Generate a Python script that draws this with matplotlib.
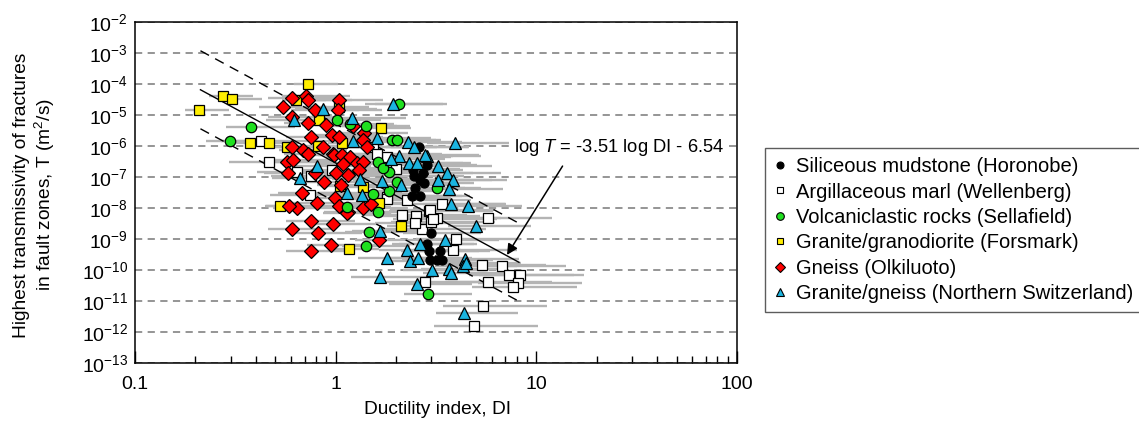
import numpy as np
import matplotlib.pyplot as plt
from matplotlib.lines import Line2D
from matplotlib.ticker import NullLocator, FixedLocator, FixedFormatter

plt.rcParams['font.family'] = ['Liberation Sans', 'DejaVu Sans']
plt.rcParams['mathtext.fontset'] = 'custom'
plt.rcParams['mathtext.rm'] = 'Liberation Sans'
plt.rcParams['mathtext.it'] = 'Liberation Sans:italic'

# log10(DI) and log10(T), one pair of lists per site
horonobe_logdi = [0.417, 0.456, 0.387, 0.433, 0.390, 0.420, 0.440, 0.395, 0.420, 0.379,
                  0.475, 0.457, 0.466, 0.520, 0.470, 0.503, 0.532]
horonobe_logt = [-6.03, -6.60, -6.76, -6.85, -6.97, -7.09, -7.19, -7.35, -7.60, -7.60,
                 -8.80, -9.17, -9.38, -9.38, -9.68, -9.68, -9.68]

wellenberg_logdi = [-0.372, -0.331, -0.123, -0.191, -0.020, 0.187, 0.254, 0.208, 0.302, 0.254,
                    -0.128, 0.257, 0.333, 0.400, 0.466, 0.503, 0.431, 0.476, 0.528, 0.599,
                    0.586, 0.445, 0.689, 0.727, 0.760, 0.735, 0.757, 0.354, 0.395, 0.470,
                    0.486, 0.827, 0.866, 0.917, 0.910, 0.882]
wellenberg_logt = [-5.83, -6.52, -6.96, -6.82, -6.78, -6.04, -6.34, -6.25, -6.72, -7.63,
                   -7.57, -7.71, -8.22, -8.26, -8.09, -8.32, -8.68, -8.43, -7.86, -9.01,
                   -9.34, -10.37, -11.80, -9.83, -10.37, -11.17, -8.31, -7.73, -8.48, -8.05,
                   -8.35, -9.88, -10.17, -10.15, -10.41, -10.53]

sellafield_logdi = [-0.527, -0.424, 0.008, 0.071, 0.151, 0.317, 0.279, 0.304, 0.212, 0.267,
                    0.234, 0.304, 0.184, 0.267, 0.503, 0.055, 0.209, 0.167, 0.151, 0.461]
sellafield_logt = [-5.82, -5.37, -5.15, -5.28, -5.35, -4.65, -5.79, -5.79, -6.50, -6.82,
                   -6.71, -7.14, -7.54, -7.43, -7.35, -7.95, -8.13, -8.77, -9.22, -10.77]

forsmark_logdi = [-0.681, -0.562, -0.517, -0.138, -0.427, -0.332, -0.243, -0.088, -0.083, -0.198,
                  0.016, 0.031, 0.226, 0.136, -0.278, 0.216, 0.325, 0.066, 0.021]
forsmark_logt = [-4.83, -4.38, -4.47, -3.99, -5.89, -5.89, -6.02, -5.99, -5.15, -4.51,
                 -4.73, -5.89, -5.41, -7.31, -7.93, -7.83, -8.57, -9.31, -7.28]

olkiluoto_logdi = [-0.219, -0.148, -0.264, -0.137, -0.103, -0.216, -0.137, -0.050, -0.125, -0.219,
                   -0.161, -0.137, -0.062, -0.015, -0.244, -0.214, -0.239, -0.103, -0.057, -0.169,
                   0.018, 0.013, -0.020, 0.018, -0.008, 0.030, 0.071, 0.035, 0.105, 0.135,
                   0.143, 0.135, 0.088, 0.154, 0.063, 0.118, 0.026, 0.001, -0.194, -0.233,
                   -0.095, -0.003, 0.018, 0.063, 0.135, 0.174, -0.125, -0.015, -0.219, -0.090,
                   -0.023, -0.125, 0.217, 0.058]
olkiluoto_logt = [-4.45, -4.38, -4.72, -4.51, -4.83, -5.05, -5.24, -5.31, -5.69, -6.01,
                  -6.12, -6.25, -6.01, -6.25, -6.50, -6.44, -6.85, -6.87, -7.17, -7.50,
                  -4.51, -4.83, -5.64, -5.69, -6.28, -6.28, -6.34, -6.57, -6.55, -6.50,
                  -5.58, -5.80, -5.35, -6.01, -6.93, -6.76, -7.25, -6.87, -8.00, -7.93,
                  -7.82, -7.68, -7.93, -8.11, -8.00, -7.87, -8.40, -8.52, -8.68, -8.79,
                  -9.18, -9.38, -9.02, -8.16]

swiss_logdi = [0.284, -0.062, -0.206, 0.080, 0.204, 0.088, 0.362, 0.389, 0.594, -0.095,
               -0.178, 0.317, 0.453, 0.367, 0.404, 0.510, 0.553, 0.586, 0.566, 0.511,
               0.274, 0.229, 0.325, 0.121, 0.059, 0.131, 0.573, 0.661, 0.702, 0.221,
               0.546, 0.420, 0.354, 0.370, 0.409, 0.254, 0.644, 0.633, 0.652, 0.478,
               0.566, 0.574, 0.219, 0.408, 0.638, 0.445]
swiss_logt = [-4.64, -4.81, -5.15, -5.09, -5.72, -5.83, -5.85, -6.01, -5.90, -6.63,
              -7.03, -6.32, -6.32, -6.55, -6.55, -6.64, -6.85, -7.09, -7.39, -7.09,
              -6.42, -7.11, -7.26, -7.06, -7.51, -7.59, -7.86, -7.94, -8.59, -8.73,
              -9.02, -9.15, -9.35, -9.72, -9.62, -9.62, -9.65, -9.86, -9.76, -10.01,
              -9.97, -10.08, -10.22, -10.46, -11.40, -6.28]

# approximate DI range of each point (decades below / above)
err_lo = [0.14, 0.20, 0.12, 0.07, 0.12, 0.14]
err_hi = [0.25, 0.32, 0.22, 0.15, 0.22, 0.27]

labels = ['Siliceous mudstone (Horonobe)', 'Argillaceous marl (Wellenberg)',
          'Volcaniclastic rocks (Sellafield)', 'Granite/granodiorite (Forsmark)',
          'Gneiss (Olkiluoto)', 'Granite/gneiss (Northern Switzerland)']

# regression log T = a log DI + b, with band
fit_a = -3.51
fit_b = -6.54
fit_band = 1.26
fit_di = [0.212, 8.2]

series = [(horonobe_logdi, horonobe_logt), (wellenberg_logdi, wellenberg_logt),
          (sellafield_logdi, sellafield_logt), (forsmark_logdi, forsmark_logt),
          (olkiluoto_logdi, olkiluoto_logt), (swiss_logdi, swiss_logt)]
styles = [dict(marker='o', ms=6.5, mfc='black'),
          dict(marker='s', ms=6.8, mfc='white'),
          dict(marker='o', ms=7.5, mfc='#1fe01f'),
          dict(marker='s', ms=6.8, mfc='#ffee00'),
          dict(marker='D', ms=6.8, mfc='#ff0000'),
          dict(marker='^', ms=8, mfc='#1ab4e0')]
legend_ms = [5, 5, 5.5, 5, 5, 5.5]

fig = plt.figure(figsize=(11.39, 4.29), dpi=100)
ax = fig.add_axes([0.1185, 0.1538, 0.5285, 0.794])

for (ld, lt), lo, hi in zip(series, err_lo, err_hi):
    di = 10 ** np.array(ld)
    t = 10 ** np.array(lt)
    xerr = [di - di * 10 ** (-lo), di * 10 ** hi - di]
    ax.errorbar(di, t, xerr=xerr, fmt='none', ecolor='#b4b4b4', elinewidth=1.7,
                capsize=0, zorder=2)

x = np.array(fit_di)
y = 10 ** (fit_a * np.log10(x) + fit_b)
ax.plot(x, y, color='black', lw=1, zorder=3)
ax.plot(x, y * 10 ** fit_band, color='black', lw=1, dashes=(7, 5), zorder=3)
ax.plot(x, y / 10 ** fit_band, color='black', lw=1, dashes=(7, 5), zorder=3)

order = [1, 0, 3, 4, 2, 5]
for i in order:
    ld, lt = series[i]
    ax.plot(10 ** np.array(ld), 10 ** np.array(lt), ls='none', mec='black', mew=0.9,
            zorder=4, **styles[i])

ax.set_xscale('log')
ax.set_yscale('log')
ax.set_xlim(0.1, 100)
ax.set_ylim(1e-13, 1e-2)

yexp = np.arange(-13, -1)
ax.yaxis.set_major_locator(FixedLocator(10.0 ** yexp))
ax.yaxis.set_major_formatter(FixedFormatter(['10$^{%d}$' % e for e in yexp]))
ax.yaxis.set_minor_locator(NullLocator())
ax.xaxis.set_major_locator(FixedLocator([0.1, 1, 10, 100]))
ax.xaxis.set_major_formatter(FixedFormatter(['0.1', '1', '10', '100']))
ax.tick_params(axis='y', length=0, pad=5, labelsize=14)
ax.tick_params(axis='x', which='major', direction='in', length=9, width=1, labelsize=14, pad=9)
ax.tick_params(axis='x', which='minor', direction='in', length=5, width=1)
ax.grid(axis='y', which='major', ls=(0, (4, 3)), color='#8c8c8c', lw=1.3)
ax.set_axisbelow(True)
for s in ax.spines.values():
    s.set_linewidth(1.1)

ax.annotate('', xy=(10 ** 0.854, 10 ** -9.51), xytext=(10 ** 1.131, 10 ** -6.64),
            arrowprops=dict(arrowstyle='-|>', color='black', lw=1.1, mutation_scale=16,
                            shrinkA=0, shrinkB=0), zorder=6)
ax.text(10 ** 0.888, 10 ** -6.05, 'log $T$ = -3.51 log DI - 6.54', fontsize=13.2,
        ha='left', va='center', zorder=6,
        bbox=dict(facecolor='white', edgecolor='none', pad=1.5))

fig.text(35 / 1139, 1 - 195 / 429, 'Highest transmissivity of fractures\nin fault zones, T (m$^2$/s)',
         rotation=90, ha='center', va='center', fontsize=13.8, linespacing=1.15)
fig.text(437 / 1139, 1 - 410 / 429, 'Ductility index, DI', ha='center', va='center', fontsize=13.8)

handles = [Line2D([], [], ls='none', mec='black', mew=0.8,
                  **dict(styles[i], ms=legend_ms[i])) for i in range(6)]
leg = fig.legend(handles, labels, loc='upper left', bbox_to_anchor=(765 / 1139, 1 - 148 / 429),
                 frameon=True, fancybox=False, edgecolor='#333333', fontsize=14.5,
                 handlelength=0.6, handletextpad=0.5, labelspacing=0.32, borderpad=0.45,
                 borderaxespad=0)
leg.get_frame().set_linewidth(1.0)

fig.savefig('out.png', dpi=100)
